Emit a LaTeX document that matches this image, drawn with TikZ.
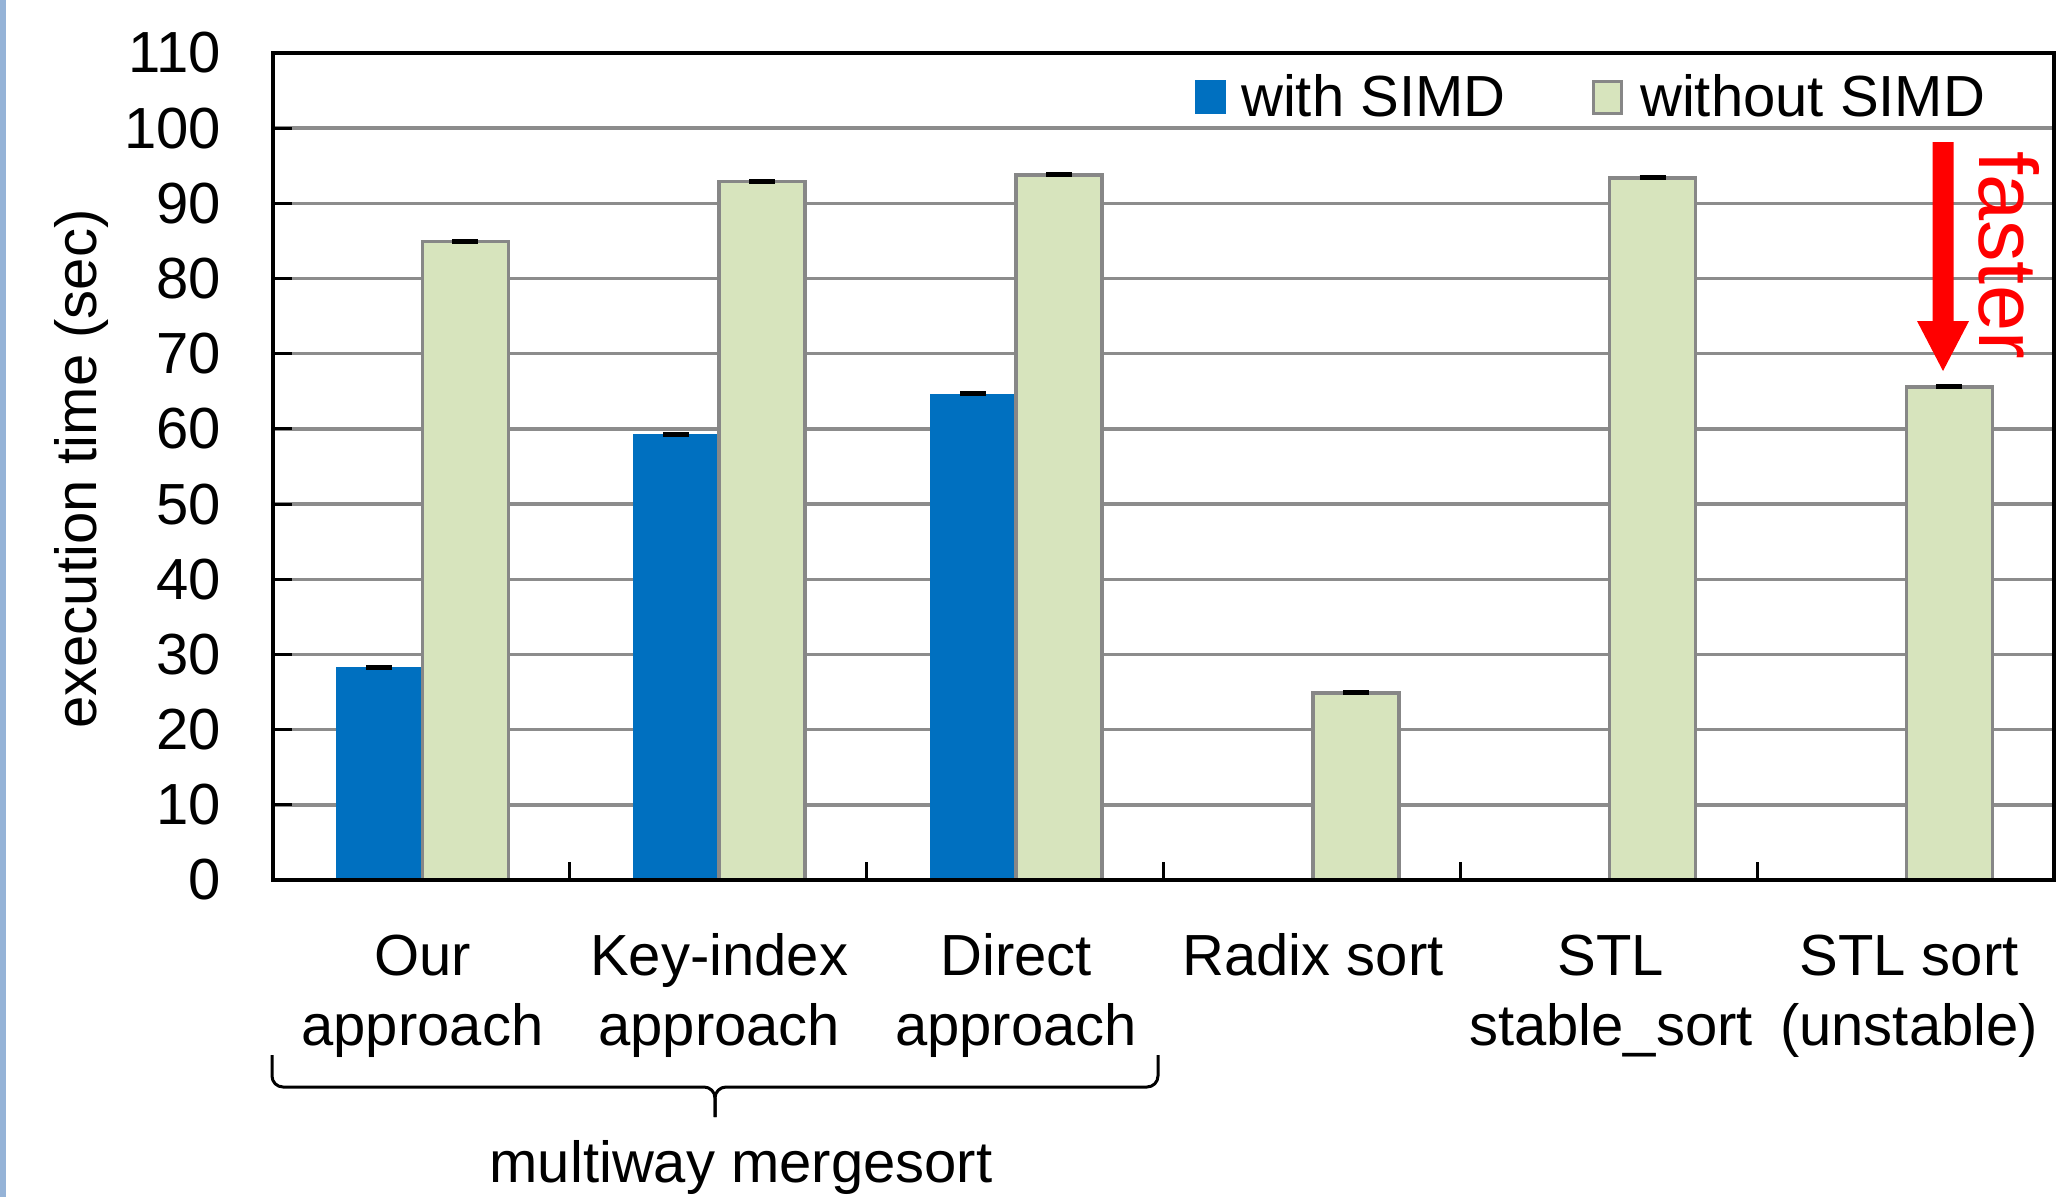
\documentclass[tikz,border=0pt]{standalone}
\usepackage{fontspec}
\setmainfont{Liberation Sans}
\definecolor{simd}{HTML}{0070C0}
\definecolor{nosimd}{HTML}{D7E4BD}
\definecolor{barline}{HTML}{878787}
\definecolor{gridc}{HTML}{8C8C8C}
\definecolor{edgeblue}{HTML}{95B3D7}
\definecolor{fastred}{HTML}{FF0000}
\begin{document}
\begin{tikzpicture}[x=1pt,y=-1pt,
  lbl/.style={font=\fontsize{58}{70}\selectfont, inner sep=0pt, text=black},
  gridline/.style={draw=gridc, line width=3.5pt},
  frameline/.style={draw=black, line width=4pt},
  tickline/.style={draw=black, line width=3pt},
  simdbar/.style={fill=simd},
  plainbar/.style={fill=nosimd, draw=barline, line width=3.5pt},
  errbar/.style={draw=black, line width=5pt},
  bracepath/.style={draw=black, line width=3pt, rounded corners=11pt}]
\useasboundingbox (0,0) rectangle (2061,1197);
\fill[white] (0,0) rectangle (2061,1197);
\fill[edgeblue] (0,0) rectangle (6,1197);
% gridlines
\foreach \v in {10,20,...,100}
  \draw[gridline] (273,{880-\v*7.518}) -- (2054,{880-\v*7.518});
% bars with and without SIMD
\foreach \i/\a/\b in {0/28.3/84.9, 1/59.3/92.9, 2/64.7/93.8} {
  \pgfmathsetmacro\c{274+(\i+0.5)*296.8}
  \fill[simdbar] ({\c-86},880) rectangle (\c,{880-\a*7.518});
  \draw[plainbar] (\c,880) rectangle ({\c+86},{880-\b*7.518});
  \draw[errbar] ({\c-56},{880-\a*7.518}) -- ({\c-30},{880-\a*7.518});
  \draw[errbar] ({\c+30},{880-\b*7.518}) -- ({\c+56},{880-\b*7.518});
}
\foreach \i/\b in {3/24.9, 4/93.4, 5/65.6} {
  \pgfmathsetmacro\c{274+(\i+0.5)*296.8}
  \draw[plainbar] (\c,880) rectangle ({\c+86},{880-\b*7.518});
  \draw[errbar] ({\c+30},{880-\b*7.518}) -- ({\c+56},{880-\b*7.518});
}
% frame
\draw[frameline] (273,53) rectangle (2054,880);
% y ticks and labels
\foreach \v in {0,10,...,110} {
  \draw[tickline] (273,{880-\v*7.518}) -- (292,{880-\v*7.518});
  \node[lbl, anchor=east] (yl\v) at (221,{880-\v*7.518}) {\v};
}
% x ticks
\foreach \i in {1,...,5}
  \draw[tickline] ({273+\i*296.8},880) -- ({273+\i*296.8},862);
% axis title
\node[lbl, rotate=90] (ytitle) at (81,469) {execution time (sec)};
% category labels
\node[lbl, anchor=base] (c1a) at (422.4,975) {Our};
\node[lbl, anchor=base] (c1b) at (422.4,1045) {approach};
\node[lbl, anchor=base] (c2a) at (719.2,975) {Key-index};
\node[lbl, anchor=base] (c2b) at (719.2,1045) {approach};
\node[lbl, anchor=base] (c3a) at (1016,975) {Direct};
\node[lbl, anchor=base] (c3b) at (1016,1045) {approach};
\node[lbl, anchor=base] (c4a) at (1313,975) {Radix sort};
\node[lbl, anchor=base] (c5a) at (1611,975) {STL};
\node[lbl, anchor=base] (c5b) at (1611,1045) {stable\_sort};
\node[lbl, anchor=base] (c6a) at (1909,975) {STL sort};
\node[lbl, anchor=base] (c6b) at (1909,1045) {(unstable)};
% brace
\draw[bracepath] (272,1055) -- (272,1087) -- (715,1087) -- (715,1117);
\draw[bracepath] (1158,1055) -- (1158,1087) -- (715,1087) -- (715,1117);
\node[lbl, anchor=base] (group) at (741,1182) {multiway mergesort};
% legend
\fill[simd] (1195,80) rectangle (1226,114);
\node[lbl, anchor=base west] (leg1) at (1241,116) {with SIMD};
\draw[plainbar, line width=3pt] (1593,81) rectangle (1621,113);
\node[lbl, anchor=base west] (leg2) at (1640,116) {without SIMD};
% red arrow
\fill[fastred] (1932.5,142) -- (1953.5,142) -- (1953.5,321) -- (1969,321)
  -- (1943,371) -- (1917,321) -- (1932.5,321) -- cycle;
\node[font=\fontsize{83}{90}\selectfont, text=fastred, inner sep=0pt, rotate=-90] (fast) at (2009,255) {faster};
\end{tikzpicture}
\end{document}
